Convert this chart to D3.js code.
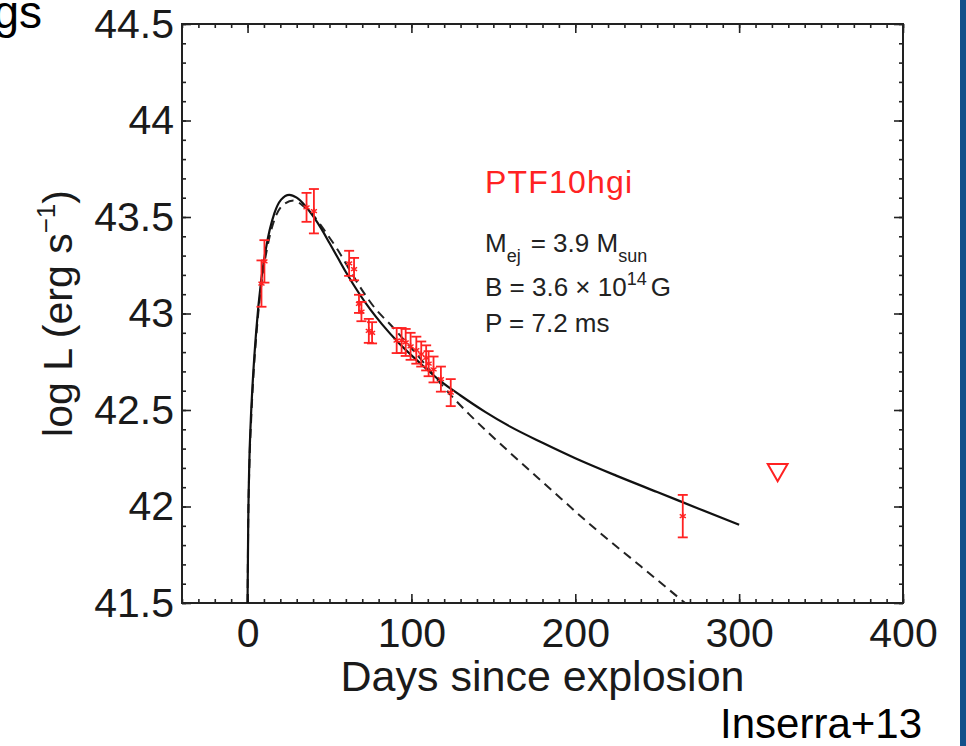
<!DOCTYPE html>
<html>
<head>
<meta charset="utf-8">
<script src="https://cdn.jsdelivr.net/npm/d3@7"></script>
<style>
  html, body { margin: 0; padding: 0; background: #fff; }
  svg { display: block; font-family: "Liberation Sans", Arial, Helvetica, sans-serif; }
</style>
</head>
<body>
<svg id="chart" width="966" height="746"></svg>
<script>
// magnetar model (solid)
const modelDays = [0, 0.4, 1.0, 2.0, 3.2, 5.3, 8.3, 11.3, 16.4, 20.5, 25.5, 30, 35, 40, 45, 50, 55, 60, 68, 75, 82, 92, 105, 117, 130, 145, 160, 180, 200, 225, 250, 275, 300]
const modelLogL = [41.5, 41.9, 42.2, 42.45, 42.65, 42.91, 43.17, 43.34, 43.52, 43.59, 43.615, 43.60, 43.56, 43.505, 43.44, 43.365, 43.29, 43.215, 43.105, 43.02, 42.945, 42.85, 42.745, 42.655, 42.575, 42.49, 42.415, 42.33, 42.25, 42.16, 42.075, 41.99, 41.905]

// dashed comparison model
const dashDays = [0, 0.4, 1.1, 2.2, 3.4, 5.6, 8.7, 12, 17.5, 22, 28, 35, 40, 47.8, 55, 62, 70, 78, 88, 100, 110, 118.5, 127, 135, 160, 183.6, 210, 240, 267]
const dashLogL = [41.5, 41.9, 42.2, 42.45, 42.65, 42.91, 43.17, 43.34, 43.51, 43.565, 43.585, 43.55, 43.51, 43.42, 43.33, 43.23, 43.12, 43.025, 42.935, 42.82, 42.72, 42.63, 42.55, 42.48, 42.28, 42.10, 41.90, 41.69, 41.5]

// observed points with errors
const obsDays = [8.5, 10.3, 36, 40.5, 62, 65, 68, 69.5, 74, 76, 91, 94, 96.5, 99.5, 103, 106, 109, 110.5, 113.5, 118, 124, 265.6]
const obsLogL = [43.155, 43.27, 43.55, 43.53, 43.26, 43.23, 43.05, 43.01, 42.91, 42.90, 42.86, 42.86, 42.85, 42.83, 42.81, 42.79, 42.77, 42.74, 42.71, 42.66, 42.59, 41.95]
const obsErr = [0.12, 0.11, 0.075, 0.115, 0.065, 0.058, 0.047, 0.05, 0.062, 0.055, 0.065, 0.065, 0.07, 0.07, 0.07, 0.065, 0.065, 0.065, 0.067, 0.065, 0.07, 0.11]

// upper limit
const limitDays = [323.5]
const limitLogL = [42.19]

const xTicks = [0, 100, 200, 300, 400]
const yTicks = [41.5, 42, 42.5, 43, 43.5, 44, 44.5]

const margins = {left: 182, top: 24, right: 903, bottom: 603}
const red = "#ff2222"

const svg = d3.select("#chart")

const x = d3.scaleLinear().domain([-40, 400]).range([margins.left, margins.right])
const y = d3.scaleLinear().domain([41.5, 44.5]).range([margins.bottom, margins.top])

// blue slide border on the right
svg.append("rect")
  .attr("x", 960).attr("y", 0)
  .attr("width", 6).attr("height", 746)
  .attr("fill", "#12508a")

// cut-off slide title
svg.append("text")
  .attr("x", 42).attr("y", 28)
  .attr("text-anchor", "end")
  .attr("font-size", 46)
  .attr("fill", "#000")
  .text("gs")

const plot = svg.append("g")

function styleAxis(g) {
  g.select(".domain").remove()
  g.selectAll(".tick line").attr("stroke", "#222").attr("stroke-width", 1.6)
  g.selectAll(".tick text")
    .attr("font-size", 41)
    .attr("fill", "#1a1a1a")
    .attr("font-family", "Liberation Sans, Arial, sans-serif")
}

const minorX = d3.range(-40, 401, 10)
const minorY = d3.range(415, 446, 1).map(v => v / 10)

// minor ticks
plot.append("g").attr("transform", `translate(0,${margins.bottom})`)
  .call(d3.axisBottom(x).tickValues(minorX).tickSize(-4).tickSizeOuter(0).tickFormat(""))
  .call(styleAxis)
plot.append("g").attr("transform", `translate(0,${margins.top})`)
  .call(d3.axisTop(x).tickValues(minorX).tickSize(-4).tickSizeOuter(0).tickFormat(""))
  .call(styleAxis)
plot.append("g").attr("transform", `translate(${margins.left},0)`)
  .call(d3.axisLeft(y).tickValues(minorY).tickSize(-4).tickSizeOuter(0).tickFormat(""))
  .call(styleAxis)
plot.append("g").attr("transform", `translate(${margins.right},0)`)
  .call(d3.axisRight(y).tickValues(minorY).tickSize(-4).tickSizeOuter(0).tickFormat(""))
  .call(styleAxis)

// major ticks + labels
plot.append("g").attr("transform", `translate(0,${margins.bottom})`)
  .call(d3.axisBottom(x).tickValues(xTicks).tickSize(-9).tickSizeOuter(0).tickPadding(15).tickFormat(d3.format("d")))
  .call(styleAxis)
plot.append("g").attr("transform", `translate(0,${margins.top})`)
  .call(d3.axisTop(x).tickValues(xTicks).tickSize(-9).tickSizeOuter(0).tickFormat(""))
  .call(styleAxis)
plot.append("g").attr("transform", `translate(${margins.left},0)`)
  .call(d3.axisLeft(y).tickValues(yTicks).tickSize(-9).tickSizeOuter(0).tickPadding(8).tickFormat(d => d3.format("")(d)))
  .call(styleAxis)
plot.append("g").attr("transform", `translate(${margins.right},0)`)
  .call(d3.axisRight(y).tickValues(yTicks).tickSize(-9).tickSizeOuter(0).tickFormat(""))
  .call(styleAxis)

// frame
plot.append("rect")
  .attr("x", margins.left).attr("y", margins.top)
  .attr("width", margins.right - margins.left)
  .attr("height", margins.bottom - margins.top)
  .attr("fill", "none")
  .attr("stroke", "#222")
  .attr("stroke-width", 2)

// axis titles
svg.append("text")
  .attr("x", (margins.left + margins.right) / 2)
  .attr("y", 691)
  .attr("text-anchor", "middle")
  .attr("font-size", 43)
  .attr("fill", "#1a1a1a")
  .text("Days since explosion")

const yTitle = svg.append("text")
  .attr("transform", `translate(72,${(margins.top + margins.bottom) / 2}) rotate(-90)`)
  .attr("text-anchor", "middle")
  .attr("font-size", 41)
  .attr("fill", "#1a1a1a")
yTitle.append("tspan").text("log L (erg s")
yTitle.append("tspan").attr("font-size", 26).attr("dy", -17).text("\u22121")
yTitle.append("tspan").attr("dy", 17).text(")")

// model curves
const line = d3.line()
  .x(d => x(d[0]))
  .y(d => y(d[1]))
  .curve(d3.curveMonotoneX)

plot.append("path")
  .datum(dashDays.map((d, i) => [d, dashLogL[i]]))
  .attr("d", line)
  .attr("fill", "none")
  .attr("stroke", "#222")
  .attr("stroke-width", 2)
  .attr("stroke-dasharray", "9,6")

plot.append("path")
  .datum(modelDays.map((d, i) => [d, modelLogL[i]]))
  .attr("d", line)
  .attr("fill", "none")
  .attr("stroke", "#111")
  .attr("stroke-width", 2.2)

// error bars
const obs = obsDays.map((d, i) => ({d: d, L: obsLogL[i], e: obsErr[i]}))
const bars = plot.append("g")
  .attr("stroke", red)
  .attr("stroke-width", 1.8)
  .attr("fill", "none")
  .selectAll("g")
  .data(obs)
  .enter()
  .append("g")

bars.append("line")
  .attr("x1", p => x(p.d)).attr("x2", p => x(p.d))
  .attr("y1", p => y(p.L - p.e)).attr("y2", p => y(p.L + p.e))
bars.append("line")
  .attr("x1", p => x(p.d) - 5).attr("x2", p => x(p.d) + 5)
  .attr("y1", p => y(p.L + p.e)).attr("y2", p => y(p.L + p.e))
bars.append("line")
  .attr("x1", p => x(p.d) - 5).attr("x2", p => x(p.d) + 5)
  .attr("y1", p => y(p.L - p.e)).attr("y2", p => y(p.L - p.e))
bars.append("path")
  .attr("transform", p => `translate(${x(p.d)},${y(p.L)})`)
  .attr("d", d3.symbol(d3.symbolAsterisk, 34))
  .attr("stroke-width", 1.4)

// upper limit
plot.append("g")
  .selectAll("path")
  .data(limitDays.map((d, i) => [d, limitLogL[i]]))
  .enter()
  .append("path")
  .attr("transform", p => `translate(${x(p[0])},${y(p[1])}) rotate(180)`)
  .attr("d", d3.symbol(d3.symbolTriangle, 170))
  .attr("fill", "none")
  .attr("stroke", red)
  .attr("stroke-width", 2)

// annotation
const note = svg.append("g").attr("fill", "#222")
note.append("text")
  .attr("x", 485).attr("y", 193)
  .attr("font-size", 32)
  .attr("letter-spacing", 1.2)
  .attr("fill", red)
  .text("PTF10hgi")

const m = note.append("text").attr("x", 485).attr("y", 252).attr("font-size", 26)
m.append("tspan").text("M")
m.append("tspan").attr("font-size", 18).attr("dy", 10).text("ej")
m.append("tspan").attr("dy", -10).attr("dx", 10).text("= 3.9 M")
m.append("tspan").attr("font-size", 18).attr("dy", 10).text("sun")

const b = note.append("text").attr("x", 485).attr("y", 296).attr("font-size", 26)
b.append("tspan").text("B = 3.6 \u00d7 10")
b.append("tspan").attr("font-size", 18).attr("dy", -11).text("14")
b.append("tspan").attr("dy", 11).attr("dx", 4).text("G")

note.append("text").attr("x", 485).attr("y", 332).attr("font-size", 26).text("P = 7.2 ms")

// citation
svg.append("text")
  .attr("x", 922).attr("y", 738)
  .attr("text-anchor", "end")
  .attr("font-size", 42)
  .attr("fill", "#000")
  .text("Inserra+13")
</script>
</body>
</html>
